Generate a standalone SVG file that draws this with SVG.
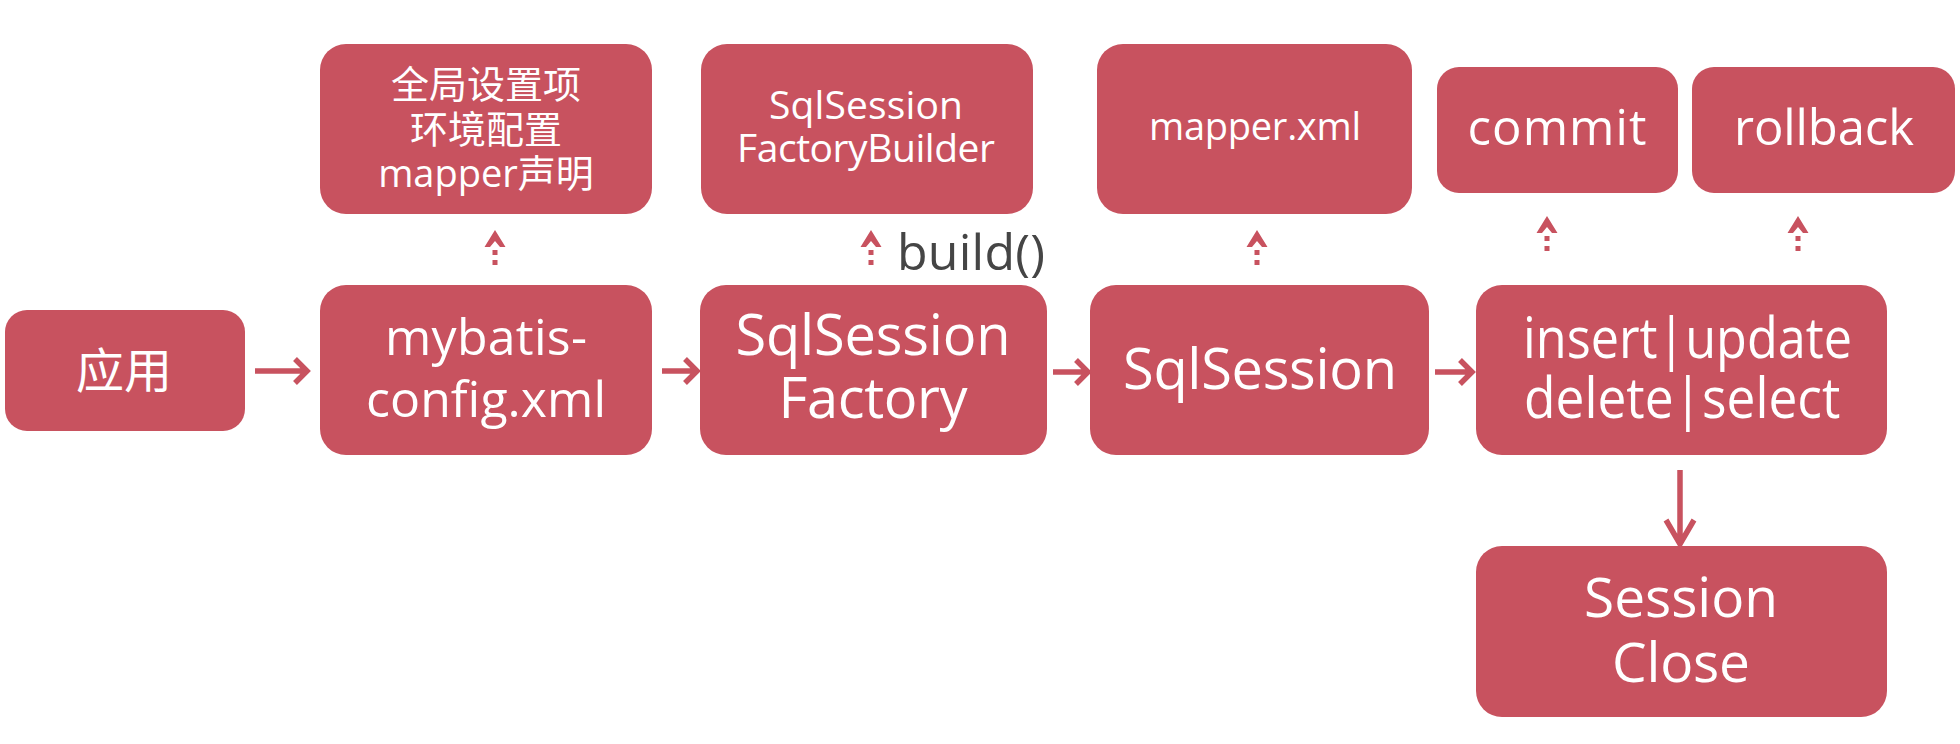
<svg xmlns="http://www.w3.org/2000/svg" width="1960" height="744" viewBox="0 0 1960 744">
<style>
  .box { fill: #C8525F; }
  .t { fill: #FFFFFF; font-family: "Open Sans", "Noto Sans CJK SC", sans-serif; text-anchor: middle; }
  .ts { fill: #FFFFFF; font-family: "Open Sans", sans-serif; text-anchor: start; }
  .cjk { fill: #FFFFFF; font-family: "Noto Sans CJK SC", sans-serif; text-anchor: middle; }
  .arr { fill: none; stroke: #C8525F; stroke-width: 5.5; stroke-linecap: butt; stroke-linejoin: miter; }
  .dash { fill: none; stroke: #C8525F; stroke-width: 5; stroke-dasharray: 5 5; }
  .head { fill: #C8525F; }
  .lbl { fill: #454545; font-family: "Open Sans", sans-serif; }
</style>
<defs>
  <g id="uparrow">
    <path class="head" d="M0,0 L10.5,17 L5,17 L0,11 L-5,17 L-10.5,17 Z"/>
    <path class="dash" d="M0,20 V37"/>
  </g>
</defs>
<rect width="1960" height="744" fill="#FFFFFF"/>

<g id="node-app">
  <rect class="box" x="5" y="310" width="240" height="121" rx="22"/>
  <text class="cjk" x="124" y="388" font-size="48">应用</text>
</g>
<g id="node-config">
  <rect class="box" x="320" y="285" width="332" height="170" rx="26"/>
  <text class="t" x="486" y="355" font-size="50" textLength="202">mybatis-</text>
  <text class="t" x="486" y="417" font-size="50" textLength="240">config.xml</text>
</g>
<g id="node-settings">
  <rect class="box" x="320" y="44" width="332" height="170" rx="26"/>
  <text class="cjk" x="486" y="98" font-size="38">全局设置项</text>
  <text class="cjk" x="486" y="143" font-size="38">环境配置</text>
  <text class="t" x="486" y="187" font-size="38">mapper声明</text>
</g>
<g id="node-factory">
  <rect class="box" x="700" y="285" width="347" height="170" rx="26"/>
  <text class="t" x="873" y="355" font-size="56" textLength="275">SqlSession</text>
  <text class="t" x="873" y="418" font-size="56" textLength="189">Factory</text>
</g>
<g id="node-builder">
  <rect class="box" x="701" y="44" width="332" height="170" rx="26"/>
  <text class="t" x="866" y="119" font-size="39" textLength="194">SqlSession</text>
  <text class="t" x="866" y="162" font-size="39" textLength="258">FactoryBuilder</text>
</g>
<g id="node-session">
  <rect class="box" x="1090" y="285" width="339" height="170" rx="26"/>
  <text class="t" x="1260" y="389" font-size="56" textLength="274">SqlSession</text>
</g>
<g id="node-mapper">
  <rect class="box" x="1097" y="44" width="315" height="170" rx="26"/>
  <text class="t" x="1255" y="140" font-size="38" textLength="212">mapper.xml</text>
</g>
<g id="node-crud">
  <rect class="box" x="1476" y="285" width="411" height="170" rx="26"/>
  <text class="ts" x="0" y="358" font-size="56" transform="translate(1523,0) scale(0.9,1)">insert|update</text>
  <text class="ts" x="0" y="418" font-size="56" transform="translate(1524,0) scale(0.92,1)">delete|select</text>
</g>
<g id="node-commit">
  <rect class="box" x="1437" y="67" width="241" height="126" rx="22"/>
  <text class="t" x="1557" y="145" font-size="49" textLength="179">commit</text>
</g>
<g id="node-rollback">
  <rect class="box" x="1692" y="67" width="263" height="126" rx="22"/>
  <text class="t" x="1824" y="145" font-size="49" textLength="180">rollback</text>
</g>
<g id="node-close">
  <rect class="box" x="1476" y="546" width="411" height="171" rx="26"/>
  <text class="t" x="1681" y="617" font-size="55" textLength="194">Session</text>
  <text class="t" x="1681" y="682" font-size="55" textLength="138">Close</text>
</g>

<g id="connectors">
  <path class="arr" d="M255,371 H306 M295,359 L307,371 L295,383"/>
  <path class="arr" d="M662,371 H696 M685,359 L697,371 L685,383"/>
  <path class="arr" d="M1053,372 H1087 M1076,360 L1088,372 L1076,384"/>
  <path class="arr" d="M1435,372 H1471 M1460,360 L1472,372 L1460,384"/>
  <path class="arr" d="M1680,470 V543 M1666,520 L1680,544 L1694,520"/>
  <use href="#uparrow" x="495" y="230"/>
  <use href="#uparrow" x="871" y="230"/>
  <use href="#uparrow" x="1257" y="230"/>
  <use href="#uparrow" x="1547" y="216"/>
  <use href="#uparrow" x="1798" y="216"/>
  <text class="lbl" x="897" y="270" font-size="50" textLength="148">build()</text>
</g>
</svg>
